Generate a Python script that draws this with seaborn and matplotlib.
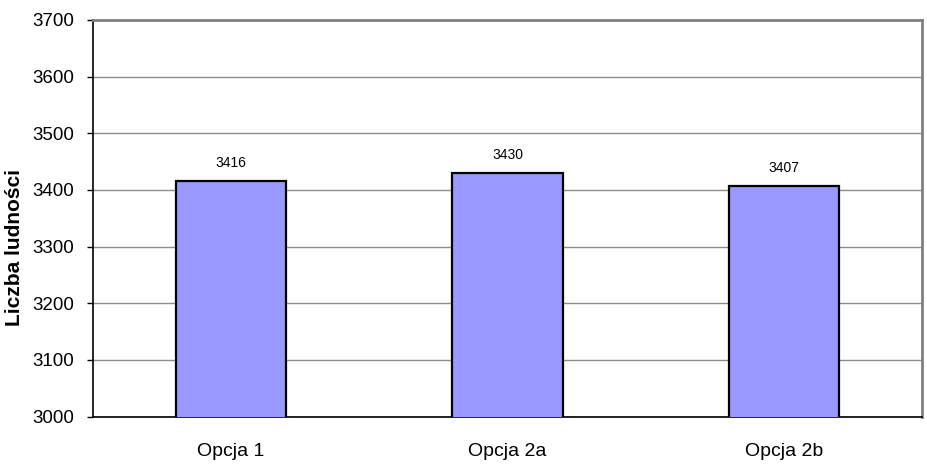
import matplotlib
matplotlib.use("Agg")
import matplotlib.pyplot as plt
from matplotlib.ticker import FixedLocator
import seaborn as sns
import pandas as pd

categories = ["Opcja 1", "Opcja 2a", "Opcja 2b"]
population = [3416, 3430, 3407]
y_ticks = [3000, 3100, 3200, 3300, 3400, 3500, 3600, 3700]

sns.set_style("white")
plt.rcParams["font.family"] = ["Liberation Sans", "DejaVu Sans"]
plt.rcParams["text.color"] = "black"
plt.rcParams["xtick.color"] = "black"
plt.rcParams["ytick.color"] = "black"
plt.rcParams["axes.labelcolor"] = "black"

df = pd.DataFrame({"opcja": categories, "ludnosc": population})

fig = plt.figure(figsize=(9.28, 4.68), dpi=100)
ax = fig.add_axes([93 / 928, 1 - 416.5 / 468, 829 / 928, (416.5 - 20) / 468])

sns.barplot(data=df, x="opcja", y="ludnosc", color="#9999FF", width=0.4,
            edgecolor="black", linewidth=1.6, saturation=1, ax=ax, zorder=3)

ax.set_xlim(-0.5, 2.5)
ax.set_ylim(3000, 3700)
ax.set_yticks(y_ticks)
ax.yaxis.grid(True, color="#8c8c8c", linewidth=1.0, zorder=0)
ax.set_axisbelow(True)

for sp in ["top", "right"]:
    ax.spines[sp].set_color("#808080")
    ax.spines[sp].set_linewidth(2)
for sp in ["left", "bottom"]:
    ax.spines[sp].set_color("black")
    ax.spines[sp].set_linewidth(1.2)

# category ticks sit between the bars
ax.xaxis.set_minor_locator(FixedLocator([-0.5, 0.5, 1.5, 2.5]))
ax.tick_params(axis="x", which="major", length=0, pad=19, labelsize=14)
ax.tick_params(axis="x", which="minor", length=4.5, width=1, color="black", direction="out")
ax.tick_params(axis="y", length=4.5, width=1, color="black", direction="out", labelsize=13.5, pad=9,
               left=True)

ax.set_xlabel("")
ax.set_ylabel("Liczba ludności", fontsize=15, fontweight="bold")
ax.yaxis.set_label_coords((24 - 93) / 829, (416.5 - 248) / 396.5)

for i, v in enumerate(population):
    ax.text(i, v + 20, str(v), ha="center", va="bottom", fontsize=10)

plt.savefig("out.png", dpi=100)
